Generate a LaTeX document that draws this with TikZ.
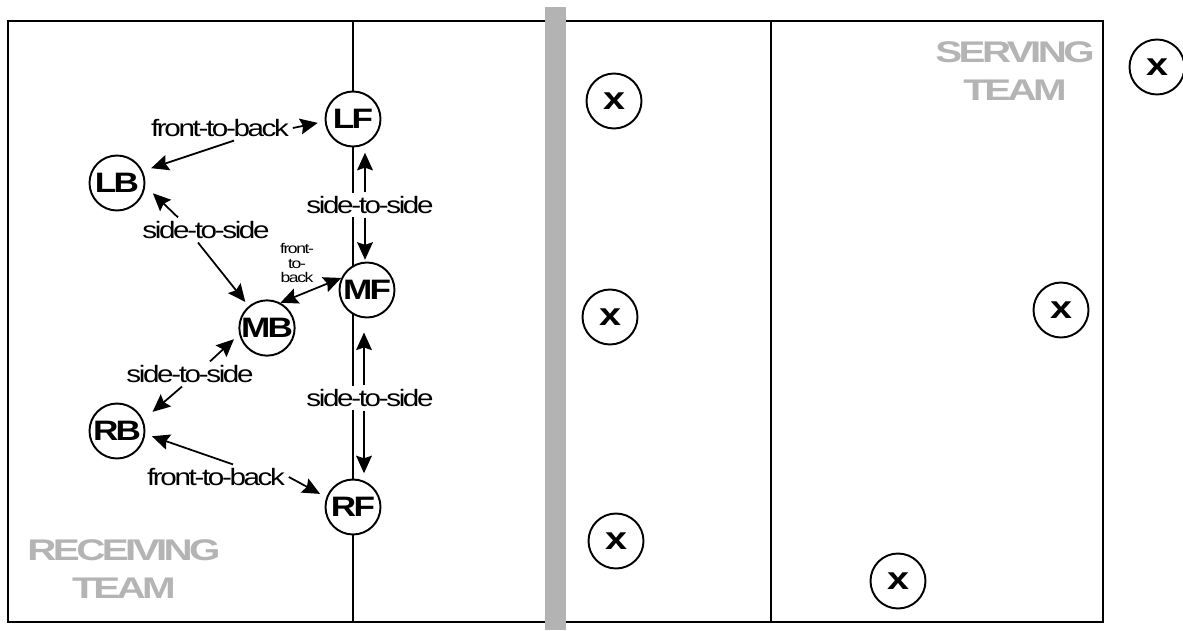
\documentclass[tikz,border=0pt]{standalone}
\usepackage{fontspec}
\setmainfont{Liberation Sans}
\newfontfamily\tagfont[FakeStretch=1.25,LetterSpace=-10]{Liberation Sans}
\newfontfamily\posfont[FakeStretch=1.25,LetterSpace=-10]{Liberation Sans}
\newfontfamily\teamfont[FakeStretch=1.35,LetterSpace=-12]{Liberation Sans}
\usetikzlibrary{arrows.meta}
\definecolor{netgray}{HTML}{B3B3B3}
\definecolor{teamgray}{HTML}{B4B4B4}
\tikzset{
  player/.style={circle, draw=black, fill=white, line width=1.1pt, minimum size=1.1cm, inner sep=0pt, font=\posfont\bfseries\fontsize{16}{18}\selectfont},
  rival/.style={player, font=\posfont\bfseries\fontsize{18}{20}\selectfont},
  move/.style={fill=white, inner sep=2pt, font=\tagfont\fontsize{13.5}{15}\selectfont},
  tinymove/.style={inner sep=1pt, align=center, font=\tagfont\fontsize{8}{8.2}\selectfont},
  team/.style={align=center, text=teamgray, font=\teamfont\bfseries\fontsize{17}{22}\selectfont},
  court/.style={line width=1.4pt},
  attack/.style={line width=1.1pt},
  flow/.style={-{Stealth[length=10pt,width=9pt,inset=1.5pt]}, line width=1pt, shorten >=4pt},
  swap/.style={{Stealth[length=10pt,width=9pt,inset=1.5pt]}-{Stealth[length=10pt,width=9pt,inset=1.5pt]}, line width=1pt}
}
\begin{document}
\begin{tikzpicture}
\useasboundingbox (0,0) rectangle (23.66,12.6);

\draw[court] (0.16,0.16) rectangle (22.06,12.18);
\draw[attack] (7.06,0.16) -- (7.06,12.18);
\draw[attack] (15.42,0.16) -- (15.42,12.18);
\fill[netgray] (10.9,0) rectangle (11.32,12.46);

\node[team] (recv) at (2.48,1.22) {RECEIVING\\TEAM};
\node[team] (serv) at (20.30,11.18) {SERVING\\TEAM};

\foreach \n/\x/\y in {LF/7.06/10.22,LB/2.34/8.94,MF/7.34/6.80,MB/5.34/6.04,RB/2.34/3.98,RF/7.06/2.46} {
  \node[player] (\n) at (\x,\y) {\n};
}
\foreach \x/\y [count=\i] in {12.28/10.58,12.20/6.26,12.32/1.78,21.22/6.40,17.96/0.98,23.14/11.26} {
  \node[rival] (opp\i) at (\x,\y) {x};
}

\node[move] (ftb1) at (4.40,10.04) {front-to-back};
\node[move] (sts1) at (4.12,8.00) {side-to-side};
\node[move] (sts2) at (7.40,8.50) {side-to-side};
\node[tinymove] (ftb2) at (5.94,7.34) {front-\\to-\\back};
\node[move] (sts3) at (3.80,5.12) {side-to-side};
\node[move] (sts4) at (7.40,4.64) {side-to-side};
\node[move] (ftb3) at (4.32,3.06) {front-to-back};

\draw[flow] (ftb1.east) -- (LF.185);
\draw[flow, shorten >=5pt] ([xshift=0.28cm]ftb1.south) -- (LB.25);
\draw[flow, shorten >=6pt] ([xshift=-0.56cm]sts1.north) -- (LB.-6);
\draw[flow, shorten >=3pt] ([xshift=-0.16cm]sts1.south) -- (MB.130);
\draw[flow, shorten >=3pt] ([xshift=-1mm]sts2.north) -- ([xshift=-1mm]sts2.north |- LF.south);
\draw[flow, shorten >=1pt] ([xshift=-1mm]sts2.south) -- ([xshift=-1mm]sts2.south |- MF.north);
\draw[swap] (MB.62) -- (MF.155);
\draw[flow] ([xshift=0.4cm]sts3.north) -- (MB.193);
\draw[flow, shorten >=7pt] ([xshift=-0.16cm]sts3.south) -- (RB.23);
\draw[flow, shorten >=8pt] ([xshift=-1.2mm]sts4.north) -- ([xshift=-1.2mm]sts4.north |- MF.south);
\draw[flow, shorten >=3pt] ([xshift=-1.2mm]sts4.south) -- ([xshift=-1.2mm]sts4.south |- RF.north);
\draw[flow] ([xshift=0.34cm]ftb3.north) -- (RB.-6);
\draw[flow] (ftb3.east) -- (RF.160);

\end{tikzpicture}
\end{document}
